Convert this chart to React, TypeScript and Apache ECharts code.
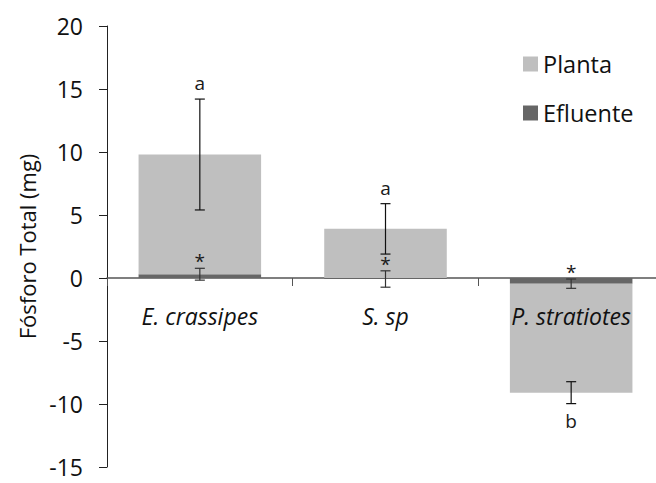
import React, { useEffect, useRef } from "react";
import * as echarts from "echarts";

const categories = ["E. crassipes", "S. sp", "P. stratiotes"];
const efluente = [0.3, -0.08, -0.45];
const planta = [9.5, 3.9, -8.65];
const plantaSD = [4.4, 2.0, 0.87];
const efluenteSD = [0.47, 0.65, 0.37];
const plantaLetters = ["a", "a", "b"];
const efluenteMarks = ["*", "*", "*"];
const yTicks = { min: -15, max: 20, interval: 5 };

const FONT = "'Open Sans', 'Noto Sans', sans-serif";

function plantaCenter(i: number) {
  const e = efluente[i];
  const p = planta[i];
  return Math.sign(e) === Math.sign(p) ? e + p : p;
}

export default function App() {
  const ref = useRef<HTMLDivElement>(null);
  useEffect(() => {
    document.body.style.margin = "0";
    if (!ref.current) return;
    const chart = echarts.init(ref.current, undefined, { renderer: "svg" });

    const makeErr = (labels: string[], alwaysAbove: boolean, color: string, fontSize: number) =>
      (params: any, api: any) => {
        const idx = api.value(0);
        const c = api.value(1);
        const sd = api.value(2);
        const hi = api.coord([idx, c + sd]);
        const lo = api.coord([idx, c - sd]);
        const x = hi[0];
        const hw = 5;
        const above = alwaysAbove || c >= 0;
        const label = labels[params.dataIndex];
        const isStar = label === "*";
        const ty = above ? hi[1] - (isStar ? 7 : 16) : lo[1] + 17;
        return {
          type: "group",
          children: [
            { type: "line", shape: { x1: x, y1: hi[1], x2: x, y2: lo[1] }, style: { stroke: color, lineWidth: 1.2 } },
            { type: "line", shape: { x1: x - hw, y1: hi[1], x2: x + hw, y2: hi[1] }, style: { stroke: color, lineWidth: 1.2 } },
            { type: "line", shape: { x1: x - hw, y1: lo[1], x2: x + hw, y2: lo[1] }, style: { stroke: color, lineWidth: 1.2 } },
            {
              type: "text",
              x: x,
              y: ty,
              style: {
                text: label,
                align: "center",
                verticalAlign: "middle",
                font: `${fontSize}px ${FONT}`,
                fill: "#1a1a1a",
              },
            },
          ],
        };
      };

    const catLabel = (params: any, api: any) => {
      const idx = api.value(0);
      const p = api.coord([idx, 0]);
      return {
        type: "text",
        x: p[0],
        y: p[1] + 38,
        style: {
          text: categories[params.dataIndex],
          align: "center",
          verticalAlign: "middle",
          font: `italic 23px ${FONT}`,
          fill: "#111",
        },
      };
    };

    const option: any = {
      animation: false,
      backgroundColor: "#ffffff",
      grid: { left: 107, right: -8, top: 26, bottom: 16, containLabel: false, outerBoundsMode: "none" },
      legend: {
        data: ["Planta", "Efluente"],
        orient: "vertical",
        left: 518,
        top: 47,
        itemWidth: 15,
        itemHeight: 15,
        itemGap: 25,
        icon: "rect",
        textStyle: { fontFamily: FONT, fontSize: 23.5, color: "#111" },
      },
      xAxis: {
        type: "category",
        data: categories,
        axisLine: { onZero: true, lineStyle: { color: "#555", width: 1.5 } },
        axisTick: { show: true, length: 8, lineStyle: { color: "#555" } },
        axisLabel: { show: false },
        splitLine: { show: false },
      },
      yAxis: {
        type: "value",
        min: yTicks.min,
        max: yTicks.max,
        interval: yTicks.interval,
        name: "Fósforo Total (mg)",
        nameLocation: "middle",
        nameGap: 68,
        nameTextStyle: { fontFamily: FONT, fontSize: 22, color: "#111" },
        axisLine: { show: true, lineStyle: { color: "#222", width: 1 } },
        axisTick: { show: true, length: 8, lineStyle: { color: "#222" } },
        axisLabel: { fontFamily: FONT, fontSize: 23, lineHeight: 20, color: "#111", margin: 24 },
        splitLine: { show: false },
      },
      series: [
        {
          name: "Efluente",
          type: "bar",
          stack: "total",
          data: efluente,
          barCategoryGap: "34%",
          itemStyle: { color: "#666666" },
        },
        {
          name: "Planta",
          type: "bar",
          stack: "total",
          data: planta,
          barCategoryGap: "34%",
          itemStyle: { color: "#bfbfbf" },
        },
        {
          name: "errPlanta",
          type: "custom",
          z: 10,
          renderItem: makeErr(plantaLetters, false, "#111", 19),
          data: categories.map((_, i) => [i, plantaCenter(i), plantaSD[i]]),
        },
        {
          name: "errEfluente",
          type: "custom",
          z: 10,
          renderItem: makeErr(efluenteMarks, true, "#333", 19),
          data: categories.map((_, i) => [i, efluente[i], efluenteSD[i]]),
        },
        {
          name: "catLabels",
          type: "custom",
          z: 11,
          renderItem: catLabel,
          data: categories.map((_, i) => [i, 0]),
        },
      ],
    };
    chart.setOption(option);
    return () => chart.dispose();
  }, []);
  return <div ref={ref} style={{ width: 656, height: 483 }} />;
}
